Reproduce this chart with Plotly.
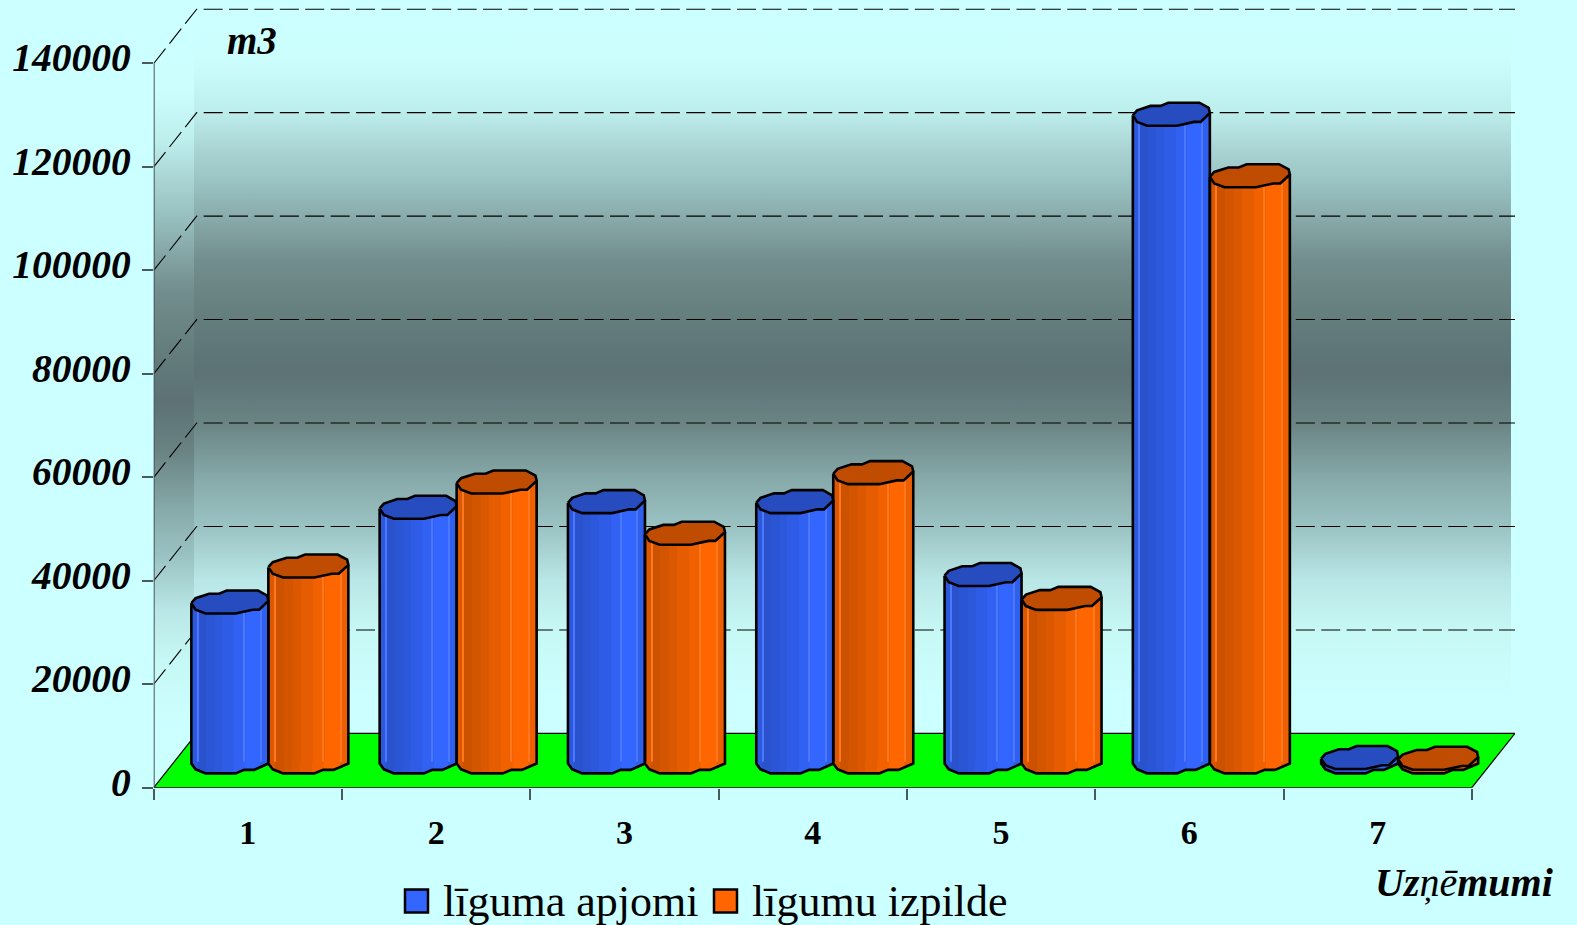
import plotly.graph_objects as go

# ---- data ----
CATEGORIES = ["1", "2", "3", "4", "5", "6", "7"]
LIGUMA_APJOMI = [30900, 49200, 50300, 50300, 36200, 125200, 830]
LIGUMU_IZPILDE = [37850, 54100, 44200, 55900, 31600, 113300, 680]
Y_TICKS = [0, 20000, 40000, 60000, 80000, 100000, 120000, 140000]
GRID_VALUES = [20000, 40000, 60000, 80000, 100000, 120000, 140000]

# ---- frame geometry (pixels of the page) ----
W, H = 1577, 925
PX0, PY0 = 153.7, 787.7          # origin of the front axes
CAT_PX = 188.3                   # pixels per category
VAL_PX = 103.46 / 20000          # pixels per unit of value
PX1 = 1515.0
DX = 43 / CAT_PX                 # depth offset along x
DY = 54.3 / VAL_PX               # depth offset along y
XMAX = (PX1 - PX0) / CAT_PX
YMAX = PY0 / VAL_PX
WALL_X0 = (194 - PX0) / CAT_PX
WALL_X1 = (1511 - PX0) / CAT_PX
BASE = 5000                      # bars stand in the middle of the depth
CAP_H = 11.5 / VAL_PX
CENTER = 20.5 / CAT_PX

BG = "#ccffff"
BLUE = (0x33, 0x66, 0xff)
ORANGE = (0xff, 0x66, 0x00)
SERIF = "Liberation Serif"

# wall gradient: (page y, colour)
WALL_PROFILE = [(9, (204, 255, 255)), (60, (204, 254, 254)), (112, (188, 238, 236)), (150, (170, 212, 212)),
                (190, (150, 190, 190)), (215, (138, 172, 172)), (260, (115, 142, 142)), (318, (100, 125, 125)),
                (372, (92, 114, 117)), (420, (105, 130, 130)), (480, (135, 170, 170)), (527, (155, 195, 195)),
                (580, (185, 230, 230)), (630, (198, 248, 245)), (700, (204, 255, 255)), (733.4, (204, 255, 255))]
WALL_TOP_Y, WALL_BOT_Y = 9.4, 733.4


def shade(c, f):
    return "rgb(%d,%d,%d)" % tuple(round(v * f) for v in c)


def lighten(c, f):
    return "rgb(%d,%d,%d)" % tuple(round(v + (255 - v) * f) for v in c)


# faceted look of the low-resolution cylinders: (start, end, brightness)
FACETS = [(0, .08, .86), (.08, .19, .80), (.19, .30, .83), (.30, .40, .86),
          (.40, .55, .90), (.55, .70, .95), (.70, .89, 1.0), (.89, 1, .93)]
HIGHLIGHTS = [.08, .68, .90]
CAP_OUTLINE = [(-1, -.1), (-.89, .33), (-.54, .72), (-.28, .72), (-.08, 1), (.73, 1), (.97, .55), (1, .1),
               (.76, -.67), (.59, -.67), (.15, -1), (-.63, -1), (-.89, -.67), (-1, -.1)]
FOOT = [(-1, -.15), (-.89, -.65), (-.63, -1), (.15, -1), (.37, -.7), (.63, -.7), (1, -.15)]

fig = go.Figure()
base_ax = dict(xaxis="x", yaxis="y", hoverinfo="skip", showlegend=False, cliponaxis=False)
top_ax = dict(xaxis="x2", yaxis="y2", hoverinfo="skip", showlegend=False, cliponaxis=False)

# ---- walls, floor, grid (base subplot) ----
wall_scale = sorted([[(WALL_BOT_Y - min(max(y, WALL_TOP_Y), WALL_BOT_Y)) / (WALL_BOT_Y - WALL_TOP_Y),
                      shade(c, 1)] for y, c in WALL_PROFILE], key=lambda s: s[0])
LEFT_SHIFT = 5800
fig.add_trace(go.Scatter(
    x=[0, WALL_X0, WALL_X0, 0, 0], y=[0, DY, Y_TICKS[-1] + DY, Y_TICKS[-1], 0],
    mode="none", fill="toself",
    fillgradient=dict(type="vertical", colorscale=wall_scale, start=DY - LEFT_SHIFT,
                      stop=Y_TICKS[-1] + DY - LEFT_SHIFT), **base_ax))
fig.add_trace(go.Scatter(
    x=[WALL_X0, WALL_X1, WALL_X1, WALL_X0, WALL_X0],
    y=[DY, DY, Y_TICKS[-1] + DY, Y_TICKS[-1] + DY, DY],
    mode="none", fill="toself",
    fillgradient=dict(type="vertical", colorscale=wall_scale, start=DY, stop=Y_TICKS[-1] + DY), **base_ax))
fig.add_trace(go.Scatter(
    x=[0, len(CATEGORIES), XMAX, DX, 0], y=[0, 0, DY, DY, 0], mode="lines", fill="toself",
    fillcolor="#00ff00", line=dict(color="black", width=1.2), **base_ax))
gx, gy = [], []
for v in GRID_VALUES:
    gx += [0, DX, XMAX, None]
    gy += [v, v + DY, v + DY, None]
fig.add_trace(go.Scatter(x=gx, y=gy, mode="lines",
                         line=dict(color="black", width=1.1, dash="19px,6.4px"), **base_ax))
fig.add_trace(go.Scatter(x=[0, 0], y=[0, Y_TICKS[-1]], mode="lines",
                         line=dict(color="#4a5a5a", width=2), **base_ax))


# ---- cylinders (overlay subplot) ----
def add_series(values, color, half_px, side_sign):
    half = half_px / CAT_PX
    centers = [i + .5 + CENTER + side_sign * half for i in range(len(values))]
    # body facets
    for start, end, f in FACETS:
        fig.add_trace(go.Bar(
            x=[c - half + (start + end) * half for c in centers], y=values, base=BASE,
            width=(end - start) * 2 * half, marker=dict(color=shade(color, f), line=dict(width=0)),
            xaxis="x2", yaxis="y2", hoverinfo="skip", showlegend=False))
    for frac in HIGHLIGHTS:
        fig.add_trace(go.Bar(
            x=[c - half + 2 * frac * half for c in centers], y=values, base=BASE,
            width=1.2 / CAT_PX, marker=dict(color=lighten(color, .12), line=dict(width=0)),
            xaxis="x2", yaxis="y2", hoverinfo="skip", showlegend=False))
    stops = []
    for start, end, f in FACETS:
        stops += [[start, shade(color, f)], [end, shade(color, f)]]
    for c, v in zip(centers, values):
        top = BASE + v
        # foot of the cylinder
        fx = [c + u * half for u, _ in FOOT] + [c + half, c - half, c - half]
        fy = [BASE + w * CAP_H for _, w in FOOT] + [BASE, BASE, BASE - .15 * CAP_H]
        fig.add_trace(go.Scatter(x=fx, y=fy, mode="none", fill="toself",
                                 fillgradient=dict(type="horizontal", colorscale=stops), **top_ax))
        # silhouette
        sx = [c - half] + [c + u * half for u, _ in FOOT] + [c + half]
        sy = [top - .1 * CAP_H] + [BASE + w * CAP_H for _, w in FOOT] + [top + .1 * CAP_H]
        fig.add_trace(go.Scatter(x=sx, y=sy, mode="lines",
                                 line=dict(color="black", width=2.6), **top_ax))
        # top cap
        fig.add_trace(go.Scatter(x=[c + u * half for u, _ in CAP_OUTLINE],
                                 y=[top + w * CAP_H for _, w in CAP_OUTLINE],
                                 mode="lines", fill="toself", fillcolor=shade(color, .75),
                                 line=dict(color="black", width=2.6), **top_ax))


add_series(LIGUMA_APJOMI, BLUE, 38.5, -1)
add_series(LIGUMU_IZPILDE, ORANGE, 40, 1)

# ---- legend ----
for name, c in (("līguma apjomi", BLUE), ("līgumu izpilde", ORANGE)):
    col = shade(c, 1)
    fig.add_trace(go.Scatter(x=[None], y=[None], name=name, mode="markers", xaxis="x2", yaxis="y2",
                             marker=dict(symbol="square", size=14, color=col, line=dict(color=col, width=1))))

# frames of the legend keys sit right under the legend markers
KEY_Y = 901
shapes = []
for kx, c in ((416.5, BLUE), (725.5, ORANGE)):
    shapes.append(dict(type="rect", xref="paper", yref="paper",
                       x0=(kx - 11.5) / W, x1=(kx + 11.5) / W,
                       y0=1 - (KEY_Y + 11.5) / H, y1=1 - (KEY_Y - 11.5) / H,
                       fillcolor=shade(c, 1), line=dict(color="black", width=2.5)))


def ann(text, px, py, size, **kw):
    return dict(text=text, x=px / W, y=1 - py / H, xref="paper", yref="paper", showarrow=False,
                xanchor="center", yanchor="middle", **kw,
                font=dict(family=SERIF, size=size, color="black"))


xrange = [0, XMAX]
yrange = [0, YMAX]
dom_x = [PX0 / W, PX1 / W]
dom_y = [1 - PY0 / H, 1]
fig.update_layout(
    width=W, height=H, margin=dict(l=0, r=0, t=0, b=0, autoexpand=False), autosize=False,
    paper_bgcolor=BG, plot_bgcolor="rgba(0,0,0,0)", barmode="overlay", bargap=0,
    shapes=shapes,
    xaxis=dict(domain=dom_x, range=xrange, showgrid=False, zeroline=False, showline=False,
               tickmode="array", tickvals=[i + .5 for i in range(7)], ticktext=CATEGORIES,
               ticks="outside", ticklen=14, tickcolor="rgba(0,0,0,0)",
               tickfont=dict(family=SERIF, size=34, color="black", weight="bold"),
               minor=dict(tickmode="array", tickvals=list(range(8)), ticks="outside", ticklen=11,
                          tickcolor="#4a5a5a", tickwidth=1.5, showgrid=False)),
    yaxis=dict(domain=dom_y, range=yrange, showgrid=False, zeroline=False, showline=False,
               tickmode="array", tickvals=Y_TICKS, ticktext=[str(v) for v in Y_TICKS],
               ticks="outside", ticklen=11, tickcolor="#4a5a5a", tickwidth=2, ticklabelstandoff=3,
               ticklabelshift=-6,
               tickfont=dict(family=SERIF, size=39.5, color="black", weight="bold", style="italic")),
    xaxis2=dict(overlaying="x", range=xrange, visible=False, anchor="y2"),
    yaxis2=dict(overlaying="y", range=yrange, visible=False, anchor="x2"),
    legend=dict(orientation="h", x=390 / W, xanchor="left", y=1 - 899 / H, yanchor="middle",
                itemwidth=43, entrywidth=251, entrywidthmode="pixels",
                bgcolor="rgba(0,0,0,0)", font=dict(family=SERIF, size=44, color="black"),
                itemclick=False, itemdoubleclick=False),
    annotations=[
        ann("<b><i>m3</i></b>", 252, 41, 39),
        ann("<i><b>Uz</b>ņē<b>mumi</b></i>", 1464, 882, 40),
    ],
)
fig.write_html("out.html", config={"displayModeBar": False},
               post_script="document.body.style.margin='0';document.documentElement.style.overflow='hidden';")
